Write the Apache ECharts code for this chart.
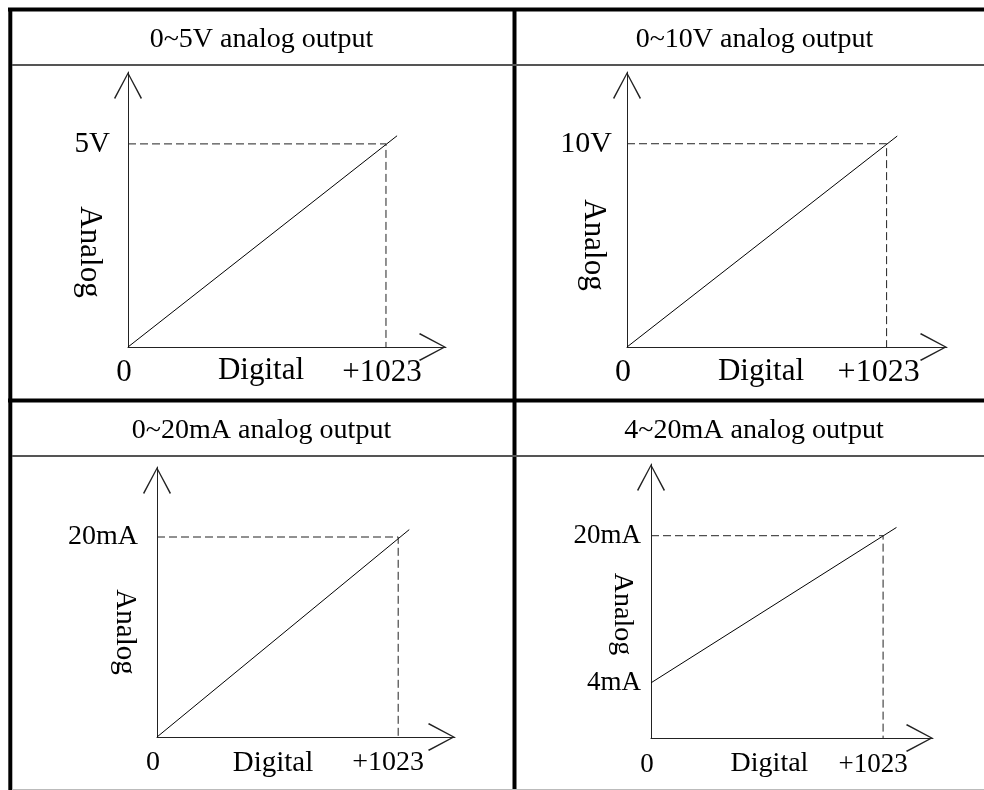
<!DOCTYPE html>
<html>
<head>
<meta charset="utf-8">
<script src="https://cdn.jsdelivr.net/npm/echarts@6/dist/echarts.min.js"></script>
<style>
html,body{margin:0;padding:0;background:#fff;}
#chart{width:984px;height:790px;}
</style>
</head>
<body>
<div id="chart"></div>
<script>
// ---------- data ----------
const panelTitles = ['0~5V analog output', '0~10V analog output', '0~20mA analog output', '4~20mA analog output'];
const xTickValues = [0, 1023];
const xTickLabels = ['0', '+1023'];
const xAxisMax = [1261, 1261, 1264, 1243];
const yAxisMin = [0, 0, 0, -2];
const yAxisMax = [6.77, 13.53, 27, 27.8];
const yTickValues = [[5], [10], [20], [4, 20]];
const yTickLabels = [['5V'], ['10V'], ['20mA'], ['4mA', '20mA']];
const fullScaleDigital = 1023;
const fullScaleAnalog = [5, 10, 20, 20];
const lineX = [[0, 1067], [0, 1065], [0, 1070], [0, 1082]];
const lineY = [[0, 5.2], [0, 10.38], [0, 20.74], [4, 20.9]];
const xAxisName = 'Digital';
const yAxisName = 'Analog';

// ---------- layout / style ----------
const FONT = "'Liberation Serif','Times New Roman',serif";
const grids = [
  {left: 128, top: 72, width: 318, height: 275},
  {left: 627, top: 72, width: 320, height: 275},
  {left: 157, top: 467, width: 298, height: 270},
  {left: 651, top: 464, width: 282, height: 274}
];
const titlePos = [[261.5, 40], [754.5, 40], [261.5, 431], [754, 431]];
const xTickFont = [31, 32, 28, 27];
const yTickFont = [29, 30, 28, 27];
const nameFont = [31, 31, 29, 28];
const xLabelMargin = [10, 10, 12, 13];
const xLabelShift = [[8, 8], [8, 16], [8, 20], [8, 20]];  // right padding per label
const xNameGap = [8, 9, 12, 12];
const xNamePadRight = [52, 52, 66, 45];
const yNameGap = [23, 18, 18, 15];
const yNamePadLeft = [85, 71, 60, 26];
const yLabelMargin = [18, 15, 19, 10];
const chevron = 'path://M14 0 L28 26 L26.8 27 L14 2.6 L1.2 27 L0 26 Z';

const chart = echarts.init(document.getElementById('chart'), null, {renderer: 'canvas'});

const xAxes = [], yAxes = [], series = [];
for (let i = 0; i < 4; i++) {
  const axisLineCommon = {
    onZero: false,
    lineStyle: {color: '#222', width: 1},
    symbol: ['none', chevron],
    symbolSize: [28, 27],
    symbolOffset: [0, -13.5]
  };
  const rich = {};
  xTickLabels.forEach((_, k) => {
    rich['t' + k] = {color: '#000', fontFamily: FONT, fontSize: xTickFont[i], padding: [0, xLabelShift[i][k], 0, 0]};
  });
  xAxes.push({
    type: 'value', gridIndex: i, min: 0, max: xAxisMax[i],
    splitLine: {show: false}, axisTick: {show: false},
    axisLine: axisLineCommon,
    axisLabel: {
      customValues: xTickValues,
      formatter: v => { const k = xTickValues.indexOf(v); return '{t' + k + '|' + xTickLabels[k] + '}'; },
      rich: rich,
      margin: xLabelMargin[i], color: '#000', fontFamily: FONT, fontSize: xTickFont[i]
    },
    name: xAxisName, nameLocation: 'middle', nameGap: xNameGap[i], nameMoveOverlap: false,
    nameTextStyle: {color: '#000', fontFamily: FONT, fontSize: nameFont[i], padding: [0, xNamePadRight[i], 0, 0]}
  });
  yAxes.push({
    type: 'value', gridIndex: i, min: yAxisMin[i], max: yAxisMax[i],
    splitLine: {show: false}, axisTick: {show: false},
    axisLine: axisLineCommon,
    axisLabel: {
      customValues: yTickValues[i],
      formatter: v => yTickLabels[i][yTickValues[i].indexOf(v)],
      margin: yLabelMargin[i], color: '#000', fontFamily: FONT, fontSize: yTickFont[i]
    },
    name: yAxisName, nameLocation: 'middle', nameRotate: -90, nameGap: yNameGap[i], nameMoveOverlap: false,
    nameTextStyle: {color: '#000', fontFamily: FONT, fontSize: nameFont[i], padding: [0, 0, 0, yNamePadLeft[i]]}
  });
  series.push({
    type: 'line', xAxisIndex: i, yAxisIndex: i, silent: true, symbol: 'none',
    lineStyle: {color: '#000', width: 1},
    data: lineX[i].map((x, k) => [x, lineY[i][k]])
  });
  series.push({
    type: 'line', xAxisIndex: i, yAxisIndex: i, silent: true, symbol: 'none',
    lineStyle: {color: '#222', width: 1, type: [8, 4]},
    data: [[0, fullScaleAnalog[i]], [fullScaleDigital, fullScaleAnalog[i]], [fullScaleDigital, yAxisMin[i]]]
  });
}

const graphic = [
  {type: 'line', shape: {x1: 8, y1: 9.5, x2: 984, y2: 9.5}, style: {stroke: '#000', lineWidth: 4}},
  {type: 'line', shape: {x1: 10.3, y1: 8, x2: 10.3, y2: 790}, style: {stroke: '#000', lineWidth: 4}},
  {type: 'line', shape: {x1: 514.5, y1: 8, x2: 514.5, y2: 790}, style: {stroke: '#000', lineWidth: 4}},
  {type: 'line', shape: {x1: 8, y1: 400.5, x2: 984, y2: 400.5}, style: {stroke: '#000', lineWidth: 4}},
  {type: 'line', shape: {x1: 12, y1: 65, x2: 984, y2: 65}, style: {stroke: '#555', lineWidth: 2}},
  {type: 'line', shape: {x1: 12, y1: 456, x2: 984, y2: 456}, style: {stroke: '#555', lineWidth: 2}},
  {type: 'line', shape: {x1: 12, y1: 789.5, x2: 984, y2: 789.5}, style: {stroke: '#bbb', lineWidth: 1}}
];
panelTitles.forEach((t, i) => {
  graphic.push({
    type: 'text', x: titlePos[i][0], y: titlePos[i][1],
    style: {text: t, fill: '#000', font: '28px ' + FONT, textAlign: 'center', textVerticalAlign: 'middle', verticalAlign: 'middle'}
  });
});

chart.setOption({
  backgroundColor: '#fff',
  animation: false,
  grid: grids.map(g => Object.assign({outerBoundsMode: 'none', containLabel: false}, g)),
  xAxis: xAxes,
  yAxis: yAxes,
  series: series,
  graphic: graphic
});
</script>
</body>
</html>
